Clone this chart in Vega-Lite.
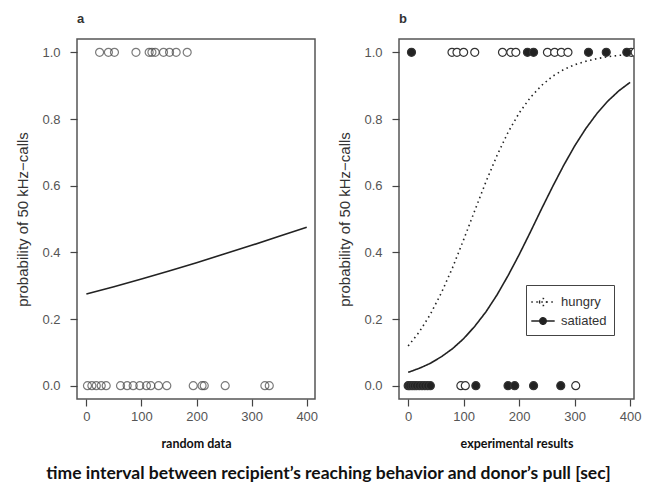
{
  "$schema": "https://vega.github.io/schema/vega-lite/v6.json",
  "background": "white",
  "padding": {"left": 15, "top": 12, "right": 8, "bottom": 5},
  "bounds": "flush",
  "spacing": 84,
  "title": {"text": "time interval between recipient’s reaching behavior and donor’s pull [sec]", "orient": "bottom", "anchor": "middle", "frame": "bounds", "font": "Lato", "fontSize": 17.5, "fontWeight": "bold", "color": "#111", "offset": 15},
  "config": {
    "view": {"stroke": "#555", "strokeWidth": 1.5},
    "axis": {"grid": false, "domain": false, "tickColor": "#444", "tickSize": 7, "tickWidth": 1.2, "labelFont": "Liberation Sans", "labelFontSize": 13, "labelColor": "#555", "labelPadding": 4},
    "axisX": {"titleFont": "Lato", "titleFontSize": 12.5, "titleFontWeight": "bold", "titleColor": "#111", "titlePadding": 14},
    "axisY": {"titleFont": "Liberation Sans", "titleFontSize": 15, "titleFontWeight": "normal", "titleColor": "#333", "titlePadding": 11, "labelPadding": 10}
  },
  "datasets": {
    "a_points": [
      {"x": 24, "y": 1}, {"x": 40, "y": 1}, {"x": 51, "y": 1}, {"x": 90, "y": 1}, {"x": 114, "y": 1}, {"x": 119, "y": 1}, {"x": 125, "y": 1}, {"x": 140, "y": 1}, {"x": 151, "y": 1}, {"x": 163, "y": 1}, {"x": 183, "y": 1},
      {"x": 2, "y": 0}, {"x": 10, "y": 0}, {"x": 18, "y": 0}, {"x": 27, "y": 0}, {"x": 36, "y": 0}, {"x": 62, "y": 0}, {"x": 74, "y": 0}, {"x": 85, "y": 0}, {"x": 97, "y": 0}, {"x": 109, "y": 0}, {"x": 117, "y": 0}, {"x": 131, "y": 0}, {"x": 146, "y": 0}, {"x": 194, "y": 0}, {"x": 210, "y": 0}, {"x": 214, "y": 0}, {"x": 252, "y": 0}, {"x": 324, "y": 0}, {"x": 332, "y": 0}
    ],
    "a_curve": [
      {"x": 0, "p": 0.275}, {"x": 50, "p": 0.297}, {"x": 100, "p": 0.320}, {"x": 150, "p": 0.344}, {"x": 200, "p": 0.369}, {"x": 250, "p": 0.395}, {"x": 300, "p": 0.421}, {"x": 350, "p": 0.448}, {"x": 400, "p": 0.475}
    ],
    "b_points": [
      {"x": 79, "y": 1, "group": "hungry"}, {"x": 88, "y": 1, "group": "hungry"}, {"x": 100, "y": 1, "group": "hungry"}, {"x": 120, "y": 1, "group": "hungry"}, {"x": 170, "y": 1, "group": "hungry"}, {"x": 185, "y": 1, "group": "hungry"}, {"x": 194, "y": 1, "group": "hungry"}, {"x": 251, "y": 1, "group": "hungry"}, {"x": 264, "y": 1, "group": "hungry"}, {"x": 276, "y": 1, "group": "hungry"}, {"x": 288, "y": 1, "group": "hungry"}, {"x": 402, "y": 1, "group": "hungry"}, {"x": 409, "y": 1, "group": "hungry"},
      {"x": 6, "y": 1, "group": "satiated"}, {"x": 215, "y": 1, "group": "satiated"}, {"x": 226, "y": 1, "group": "satiated"}, {"x": 325, "y": 1, "group": "satiated"}, {"x": 357, "y": 1, "group": "satiated"}, {"x": 394, "y": 1, "group": "satiated"},
      {"x": 95, "y": 0, "group": "hungry"}, {"x": 103, "y": 0, "group": "hungry"}, {"x": 302, "y": 0, "group": "hungry"},
      {"x": 0, "y": 0, "group": "satiated"}, {"x": 3, "y": 0, "group": "satiated"}, {"x": 7, "y": 0, "group": "satiated"}, {"x": 11, "y": 0, "group": "satiated"}, {"x": 15, "y": 0, "group": "satiated"}, {"x": 20, "y": 0, "group": "satiated"}, {"x": 25, "y": 0, "group": "satiated"}, {"x": 30, "y": 0, "group": "satiated"}, {"x": 35, "y": 0, "group": "satiated"}, {"x": 40, "y": 0, "group": "satiated"}, {"x": 122, "y": 0, "group": "satiated"}, {"x": 180, "y": 0, "group": "satiated"}, {"x": 192, "y": 0, "group": "satiated"}, {"x": 226, "y": 0, "group": "satiated"}, {"x": 275, "y": 0, "group": "satiated"}
    ],
    "b_curve": [
      {"x": 0, "p": 0.119, "group": "hungry"}, {"x": 20, "p": 0.161, "group": "hungry"}, {"x": 40, "p": 0.214, "group": "hungry"}, {"x": 60, "p": 0.279, "group": "hungry"}, {"x": 80, "p": 0.354, "group": "hungry"}, {"x": 100, "p": 0.438, "group": "hungry"}, {"x": 120, "p": 0.525, "group": "hungry"}, {"x": 140, "p": 0.611, "group": "hungry"}, {"x": 160, "p": 0.690, "group": "hungry"}, {"x": 180, "p": 0.760, "group": "hungry"}, {"x": 200, "p": 0.818, "group": "hungry"}, {"x": 220, "p": 0.864, "group": "hungry"}, {"x": 240, "p": 0.900, "group": "hungry"}, {"x": 260, "p": 0.928, "group": "hungry"}, {"x": 280, "p": 0.948, "group": "hungry"}, {"x": 300, "p": 0.963, "group": "hungry"}, {"x": 320, "p": 0.973, "group": "hungry"}, {"x": 340, "p": 0.981, "group": "hungry"}, {"x": 360, "p": 0.987, "group": "hungry"}, {"x": 380, "p": 0.991, "group": "hungry"}, {"x": 400, "p": 0.993, "group": "hungry"},
      {"x": 0, "p": 0.040, "group": "satiated"}, {"x": 20, "p": 0.052, "group": "satiated"}, {"x": 40, "p": 0.067, "group": "satiated"}, {"x": 60, "p": 0.087, "group": "satiated"}, {"x": 80, "p": 0.111, "group": "satiated"}, {"x": 100, "p": 0.141, "group": "satiated"}, {"x": 120, "p": 0.178, "group": "satiated"}, {"x": 140, "p": 0.221, "group": "satiated"}, {"x": 160, "p": 0.272, "group": "satiated"}, {"x": 180, "p": 0.330, "group": "satiated"}, {"x": 200, "p": 0.393, "group": "satiated"}, {"x": 220, "p": 0.460, "group": "satiated"}, {"x": 240, "p": 0.529, "group": "satiated"}, {"x": 260, "p": 0.596, "group": "satiated"}, {"x": 280, "p": 0.660, "group": "satiated"}, {"x": 300, "p": 0.719, "group": "satiated"}, {"x": 320, "p": 0.771, "group": "satiated"}, {"x": 340, "p": 0.816, "group": "satiated"}, {"x": 360, "p": 0.854, "group": "satiated"}, {"x": 380, "p": 0.885, "group": "satiated"}, {"x": 400, "p": 0.910, "group": "satiated"}
    ]
  },
  "hconcat": [
    {
      "width": 238,
      "height": 360,
      "title": {"text": "a", "anchor": "start", "frame": "group", "offset": 13, "font": "Liberation Sans", "fontSize": 13, "fontWeight": "bold", "color": "#333"},
      "layer": [
        {
          "data": {"name": "a_points"},
          "mark": {"type": "point", "shape": "circle", "size": 64, "filled": false, "stroke": "#444", "strokeWidth": 1.2, "clip": true},
          "encoding": {
            "x": {"field": "x", "type": "quantitative", "scale": {"domain": [-17, 415], "nice": false, "zero": false}, "axis": {"values": [0, 100, 200, 300, 400], "title": "random data"}},
            "y": {"field": "y", "type": "quantitative", "scale": {"domain": [-0.04, 1.04], "nice": false, "zero": false}, "axis": {"values": [0, 0.2, 0.4, 0.6, 0.8, 1], "format": ".1f", "title": "probability of 50 kHz−calls"}}
          }
        },
        {
          "data": {"name": "a_curve"},
          "mark": {"type": "line", "color": "#222", "strokeWidth": 1.6},
          "encoding": {
            "x": {"field": "x", "type": "quantitative"},
            "y": {"field": "p", "type": "quantitative"}
          }
        }
      ]
    },
    {
      "width": 235,
      "height": 360,
      "title": {"text": "b", "anchor": "start", "frame": "group", "offset": 13, "font": "Liberation Sans", "fontSize": 13, "fontWeight": "bold", "color": "#333"},
      "layer": [
        {
          "data": {"name": "b_curve"},
          "mark": {"type": "line", "color": "#222", "strokeWidth": 1.6},
          "encoding": {
            "x": {"field": "x", "type": "quantitative", "scale": {"domain": [-16.5, 407], "nice": false, "zero": false}, "axis": {"values": [0, 100, 200, 300, 400], "title": "experimental results"}},
            "y": {"field": "p", "type": "quantitative", "scale": {"domain": [-0.04, 1.04], "nice": false, "zero": false}, "axis": {"values": [0, 0.2, 0.4, 0.6, 0.8, 1], "format": ".1f", "title": "probability of 50 kHz−calls"}},
            "strokeDash": {
              "field": "group", "type": "nominal",
              "scale": {"domain": ["hungry", "satiated"], "range": [[1.5, 3.5], [1, 0]]},
              "legend": {
                "title": null, "orient": "none", "legendX": 449, "legendY": 246,
                "symbolType": "M-1,0H1", "symbolSize": 324, "symbolStrokeWidth": 1.4, "symbolStrokeColor": "#222",
                "labelFont": "Liberation Sans", "labelFontSize": 13, "labelColor": "#333", "labelOffset": 8,
                "strokeColor": "#444", "fillColor": "white", "padding": 7, "rowPadding": 2,
                "encode": {
                  "symbols": {
                    "update": {
                      "shape": {"signal": "datum.value === 'hungry' ? 'M-1.3,0H1.3M-0.39,0a0.39,0.39 0 1,0 0.78,0a0.39,0.39 0 1,0 -0.78,0' : 'M-1.3,0H1.3M-0.36,0a0.36,0.36 0 1,0 0.72,0a0.36,0.36 0 1,0 -0.72,0'"},
                      "fill": {"signal": "datum.value === 'hungry' ? 'white' : '#222'"},
                      "stroke": {"value": "#222"}
                    }
                  }
                }
              }
            }
          }
        },
        {
          "data": {"name": "b_points"},
          "mark": {"type": "point", "shape": "circle", "size": 64, "filled": true, "stroke": "#333", "strokeWidth": 1.2, "opacity": 1, "clip": true},
          "encoding": {
            "x": {"field": "x", "type": "quantitative"},
            "y": {"field": "y", "type": "quantitative"},
            "fill": {"field": "group", "type": "nominal", "scale": {"domain": ["hungry", "satiated"], "range": ["white", "#222"]}, "legend": null}
          }
        }
      ]
    }
  ]
}
